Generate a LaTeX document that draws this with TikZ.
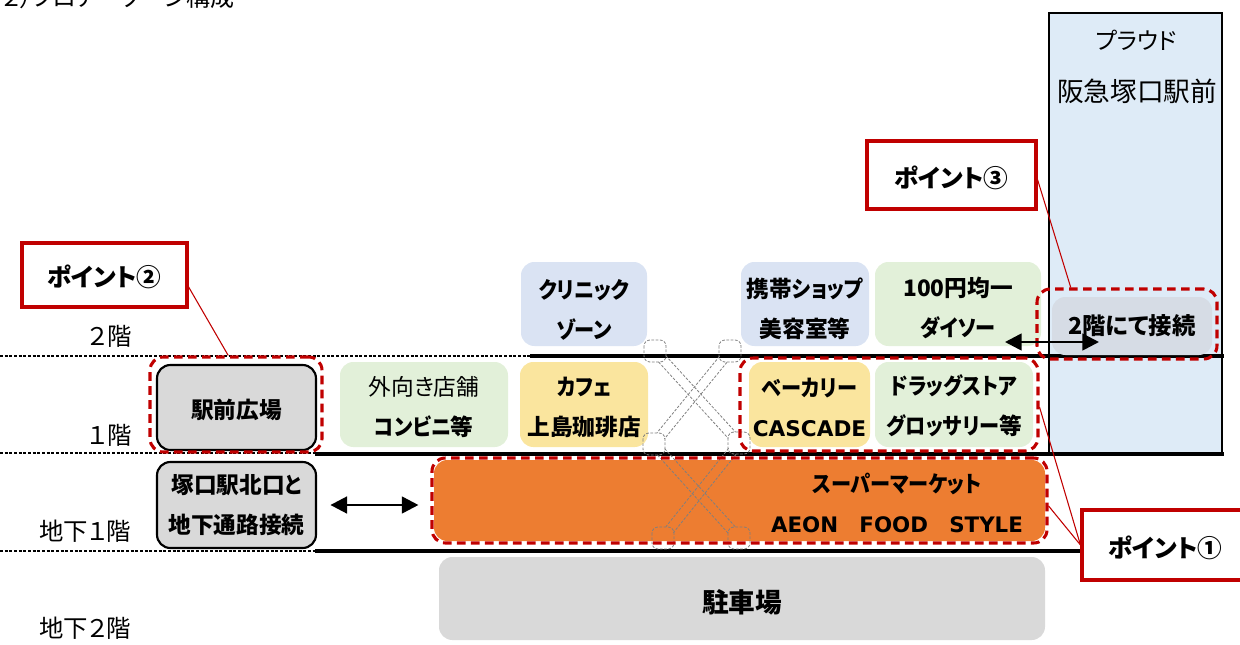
\documentclass[tikz,border=0pt]{standalone}
\usepackage{fontspec}
\setmainfont{Noto Sans CJK JP}[RawFeature=+palt]
\newfontfamily\kn{Noto Sans CJK JP}[RawFeature=+palt, FakeStretch=0.89]
\newfontfamily\latinfont{DejaVu Sans}
\usetikzlibrary{calc,arrows.meta}
\definecolor{ptred}{HTML}{C00000}
\definecolor{bldblue}{HTML}{DEEBF7}
\definecolor{shopblue}{HTML}{DAE3F3}
\definecolor{shopgreen}{HTML}{E2F0D9}
\definecolor{shopyellow}{HTML}{FAE59E}
\definecolor{shoporange}{HTML}{ED7D31}
\definecolor{shopgray}{HTML}{D9D9D9}
\definecolor{connblue}{HTML}{D6DCE5}
\definecolor{escgray}{HTML}{7F7F7F}
\newcommand\escband[2]{%
  \draw[escst] ($($(#1)!8pt!(#2)$)!3.6pt!90:(#2)$) -- ($($(#2)!8pt!(#1)$)!3.6pt!-90:(#1)$);
  \draw[escst] ($($(#1)!8pt!(#2)$)!3.6pt!-90:(#2)$) -- ($($(#2)!8pt!(#1)$)!3.6pt!90:(#1)$);}
\newcommand\lowertxt[1]{\rule{0pt}{#1}}
\begin{document}
\begin{tikzpicture}[x=0.75pt,y=-0.75pt,
  rect/.style n args={4}{at={({(#1+#3)/2},{(#2+#4)/2})},
    minimum width={(#3-#1)*0.75pt}, minimum height={(#4-#2)*0.75pt}},
  shop/.style={rounded corners=10pt, inner sep=0pt, align=center,
    font=\bfseries\fontsize{17}{30}\selectfont},
  outlined/.style={draw=black, line width=1.6pt},
  reddash/.style={draw=ptred, line width=2.3pt, dash pattern=on 6.5pt off 4pt,
    rounded corners=10pt, inner sep=0pt},
  pointbox/.style={draw=ptred, line width=2.3pt, fill=white, inner sep=0pt,
    font=\bfseries\fontsize{18.5}{20}\selectfont},
  leader/.style={draw=ptred, line width=0.8pt},
  floorlbl/.style={font=\fontsize{18.3}{20}\selectfont},
  solidfloor/.style={line width=3.6pt},
  dotfloor/.style={line width=2pt, dash pattern=on 2.2pt off 1.3pt},
  escst/.style={draw=escgray, line width=0.6pt, dash pattern=on 2pt off 1.2pt},
  dblarrow/.style={{Triangle[length=12.5pt,width=12.5pt]}-{Triangle[length=12.5pt,width=12.5pt]}, line width=2pt}
]
\useasboundingbox (0,0) rectangle (1240,644);

% title (cut off at top, as in the reference)
\node[anchor=base west, inner sep=0pt, font=\fontsize{18}{20}\selectfont] (title) at (2,6) {２）フロアーゾーン構成};

% building
\node[draw=black, line width=1.8pt, fill=bldblue, inner sep=0pt, rect={1049}{13}{1222}{453}] (bld) {};
\node[font=\fontsize{17.5}{20}\selectfont] (bld1) at (1136,40) {プラウド};
\node[font=\fontsize{20}{24}\selectfont] (bld2) at (1137,91) {阪急塚口駅前};

% floor lines
\draw[dotfloor] (0,356) -- (530,356);
\draw[solidfloor] (530,356) -- (1224,356);
\draw[dotfloor] (0,453) -- (315,453);
\draw[solidfloor] (315,454) -- (1224,454);
\draw[dotfloor] (0,551) -- (315,551);
\draw[solidfloor] (315,551) -- (1082,551);

% floor labels
\node[floorlbl] (f2) at (110,336) {２階};
\node[floorlbl] (f1) at (110,435) {１階};
\node[floorlbl] (fb1) at (85,531) {地下１階};
\node[floorlbl] (fb2) at (85,628) {地下２階};

% 2F shops
\node[shop, fill=shopblue, rect={521}{262}{647}{346}] (clinic) {\lowertxt{22.5pt}{\kn クリニック}\\{\kn ゾーン}};
\node[shop, fill=shopblue, rect={741}{262}{869}{346}] (keitai) {\lowertxt{22.5pt}携帯{\kn ショップ}\\美容室等};
\node[shop, fill=shopgreen, rect={875}{262}{1041}{346}] (daiso) {\lowertxt{21pt}100円均一\\{\kn ダイソー}};
\node[shop, fill=connblue, rect={1052}{297}{1212}{355}, font=\bfseries\fontsize{17.5}{20}\selectfont] (conn) {2階にて接続};

% 1F
\node[shop, outlined, fill=shopgray, rect={157}{365}{316}{450}] (ekimae) {\lowertxt{18.5pt}駅前広場};
\node[shop, fill=shopgreen, rect={340}{362}{508}{447}] (gaimuki) {\lowertxt{17.5pt}{\mdseries 外向き店舗}\\{\kn コンビニ}等};
\node[shop, fill=shopyellow, rect={520}{362}{648}{447}] (cafe) {\lowertxt{17.5pt}{\kn カフェ}\\上島珈琲店};
\node[shop, fill=shopyellow, rect={749}{362}{870}{447}] (bakery) {\lowertxt{17.5pt}{\kn ベーカリー}\\{\latinfont\fontsize{16.2}{30}\selectfont CASCADE}};
\node[shop, fill=shopgreen, rect={875}{362}{1033}{447}] (drug) {\lowertxt{17.5pt}{\kn ドラッグストア}\\{\kn グロッサリー}等};

% B1
\node[shop, outlined, fill=shopgray, rect={157}{462}{316}{548}] (kitaguchi) {塚口駅北口{\kn と}\\地下通路接続};
\node[shop, fill=shoporange, rect={434}{460}{1045}{541}] (super) {};
\node[shop] (supertext) at (897,503) {{\kn スーパーマーケット}\\{\latinfont\fontsize{16}{30}\selectfont AEON\hspace{16pt}FOOD\hspace{16pt}STYLE}};

% B2
\node[shop, fill=shopgray, rect={439}{557}{1045}{640}, font=\bfseries\fontsize{20}{24}\selectfont] (parking) {\lowertxt{23.5pt}駐車場};

% escalators
\coordinate (e1) at (655,351);
\coordinate (e2) at (730,351);
\coordinate (e3) at (654,444);
\coordinate (e4) at (739,443);
\coordinate (e5) at (663,538);
\coordinate (e6) at (739,538);
\foreach \p in {e1,e2,e3,e4,e5,e6}
  \draw[escst, rounded corners=4.5pt] ($(\p)+(-11,-11)$) rectangle ($(\p)+(11,11)$);
\escband{e1}{e4}
\escband{e2}{e3}
\escband{e3}{e6}
\escband{e4}{e5}

% red dashed groups
\node[reddash, rect={150}{357}{322}{452}] (d2) {};
\node[reddash, rect={740}{358}{1038}{451}] (d1) {};
\node[reddash, rect={432}{458}{1047}{543}] (dsm) {};
\node[reddash, rect={1037}{289}{1217}{359}] (d3) {};

% arrows
\draw[dblarrow] ([xshift=10pt]kitaguchi.east) -- ([xshift=-9pt]kitaguchi.east -| dsm.west);
\coordinate (a2s) at (1005,342);
\coordinate (a2e) at (1099,342);
\draw[dblarrow] (a2s) -- (a2e);

% point boxes
\node[pointbox, rect={22}{243}{187}{307}] (p2) {\lowertxt{19.5pt}ポイント②};
\node[pointbox, rect={867}{141}{1036}{209}] (p3) {\lowertxt{20.5pt}ポイント③};
\node[pointbox, rect={1082}{510}{1248}{580}] (p1) {\lowertxt{20.5pt}ポイント①};

% leaders
\draw[leader] (p2.-8) -- (d2.99);
\draw[leader] (p3.-3) -- (d3.147);
\draw[leader] (p1.west) -- (d1.-1);
\draw[leader] (p1.west) -- (dsm.-1);
\end{tikzpicture}
\end{document}
